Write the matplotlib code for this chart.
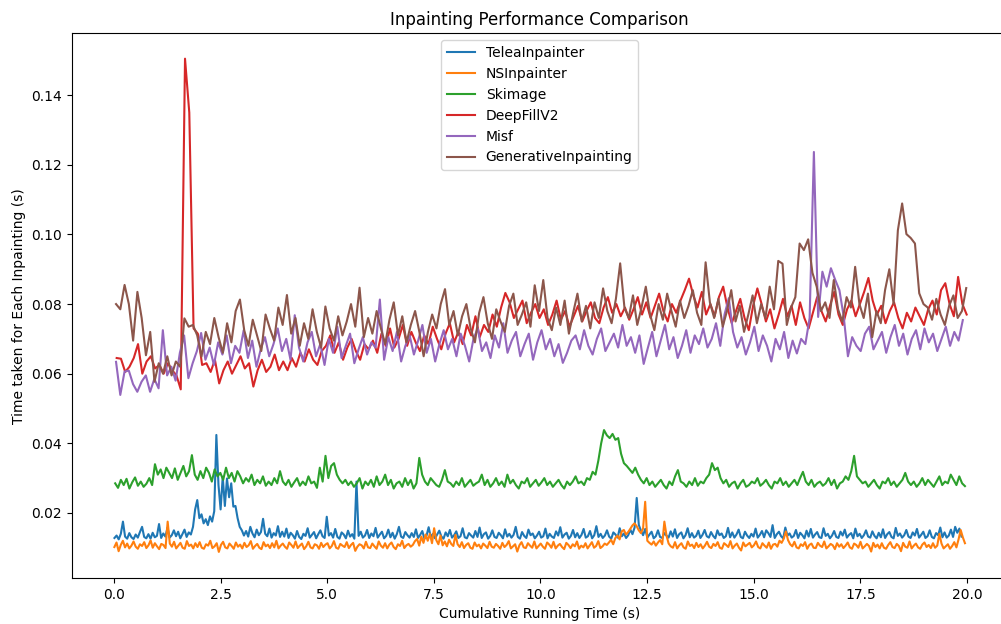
import numpy as np
import matplotlib.pyplot as plt

# per-inpainting times in milliseconds
# (each series plotted against its cumulative running time)
telea_ms = [
    12.8, 13.5, 12.4, 14.0, 17.5, 13.2, 12.6, 14.2, 13.0, 12.5, 13.8, 12.9, 14.5, 16.0, 13.1, 12.7, 13.9, 12.6, 14.3, 13.0,
    13.4, 16.8, 12.8, 14.1, 13.2, 15.8, 12.9, 13.6, 15.0, 13.3, 14.6, 12.7, 13.9, 15.2, 13.1, 14.4, 13.8, 16.0, 21.0, 23.7,
    18.5, 19.6, 17.0, 18.2, 16.5, 19.0, 17.5, 20.5, 42.4, 28.0, 21.0, 30.4, 22.0, 29.9, 24.5, 28.5, 21.8, 22.0, 18.5, 16.0,
    15.0, 13.5, 14.8, 13.2, 16.0, 14.1, 13.0, 15.2, 13.6, 14.5, 18.3, 14.0, 13.3, 15.5, 12.9, 14.2, 13.5, 16.2, 13.1, 14.6,
    13.2, 15.5, 12.8, 14.3, 13.6, 12.6, 14.8, 13.1, 12.5, 14.0, 13.4, 15.6, 12.9, 13.7, 14.5, 12.7, 13.9, 15.0, 13.3, 12.8,
    18.9, 13.5, 14.2, 12.9, 15.4, 13.1, 12.6, 14.4, 13.8, 12.7, 14.9, 13.2, 13.9, 12.6, 29.0, 13.4, 14.6, 12.9, 13.5, 15.1,
    12.8, 14.1, 13.3, 15.7, 12.9, 13.8, 14.6, 12.7, 13.4, 15.2, 13.0, 14.3, 12.6, 13.9, 16.0, 13.2, 12.8, 14.5, 13.6, 12.9,
    14.2, 13.1, 15.3, 12.8, 13.7, 14.8, 12.6, 13.5, 15.9, 13.0, 14.0, 12.7, 13.8, 14.9, 13.2, 12.6, 14.4, 13.3, 15.1, 12.9,
    13.6, 14.7, 12.8, 13.3, 15.6, 13.0, 12.7, 14.2, 13.5, 12.9, 14.8, 13.1, 15.8, 12.8, 13.9, 14.4, 12.6, 13.4, 15.0, 13.1,
    12.8, 14.3, 13.6, 12.7, 15.3, 13.2, 14.0, 12.9, 13.7, 16.0, 13.1, 12.6, 14.5, 13.4, 12.8, 15.2, 13.6, 14.1, 12.7, 13.5,
    14.6, 12.9, 13.3, 15.5, 12.7, 14.0, 13.2, 12.8, 14.7, 13.5, 15.9, 12.9, 13.8, 14.3, 12.6, 13.4, 15.1, 13.0, 14.2, 12.8,
    13.7, 15.4, 12.9, 13.3, 14.8, 12.7, 13.6, 16.2, 13.1, 14.0, 12.8, 13.5, 15.0, 13.2, 12.6, 14.4, 13.8, 12.9, 15.6, 13.3,
    14.1, 12.8, 13.6, 15.2, 13.9, 15.8, 24.3, 16.5, 14.9, 13.6, 15.4, 12.9, 13.8, 14.6, 12.7, 13.3, 15.0, 13.1, 12.8, 14.2,
    13.5, 12.9, 14.7, 13.2, 15.3, 12.8, 13.9, 14.4, 12.7, 13.6, 15.6, 13.0, 14.2, 12.9, 13.4, 14.9, 12.8, 13.7, 15.1, 13.3,
    12.9, 14.5, 13.4, 12.7, 15.0, 13.6, 14.1, 12.8, 13.3, 15.7, 13.0, 14.4, 12.9, 13.8, 15.2, 13.1, 12.7, 14.6, 13.5, 12.8,
    14.0, 13.2, 15.5, 12.9, 13.7, 14.8, 13.0, 15.0, 14.2, 13.1, 16.5, 12.8, 13.9, 14.6, 13.3, 12.7, 15.8, 13.5, 14.1, 12.9,
    13.4, 15.1, 12.8, 14.3, 13.6, 12.7, 14.9, 13.2, 15.4, 12.9, 13.8, 14.5, 13.0, 12.8, 15.6, 13.4, 14.0, 12.7, 13.5, 14.8,
    13.1, 12.8, 14.6, 13.5, 15.2, 12.9, 13.7, 14.2, 12.7, 15.5, 13.3, 14.0, 12.8, 13.6, 15.0, 13.2, 12.9, 14.7, 13.4, 12.7,
    14.3, 13.0, 15.3, 12.8, 13.9, 14.5, 13.1, 12.7, 15.7, 13.4, 14.1, 12.9, 13.6, 15.1, 13.2, 12.8, 14.4, 13.5, 15.4, 12.9,
    13.7, 14.6, 12.8, 13.3, 15.0, 13.1, 12.7, 14.2, 13.6, 15.8, 13.0, 14.4, 12.9, 13.5, 15.2, 13.1, 16.0, 14.3, 15.5, 13.2,
]

ns_ms = [
    10.2, 11.5, 9.0, 10.8, 12.0, 10.1, 11.2, 9.8, 10.6, 11.8, 10.3, 9.7, 11.0, 10.5, 11.6, 9.9, 10.7, 12.1, 10.0, 11.3,
    10.4, 9.6, 11.1, 10.8, 9.9, 17.5, 11.2, 10.3, 11.7, 9.8, 10.6, 11.4, 10.0, 9.7, 11.9, 10.5, 10.9, 9.8, 11.3, 10.2,
    11.6, 10.0, 9.7, 11.0, 10.6, 12.0, 9.9, 10.4, 11.3, 8.8, 10.8, 11.7, 10.1, 9.8, 11.2, 10.5, 9.7, 11.5, 10.3, 10.9,
    9.8, 11.4, 10.2, 10.7, 11.9, 9.7, 10.5, 11.1, 10.0, 9.6, 11.6, 10.4, 10.9, 9.9, 11.3, 10.1, 12.0, 9.8, 10.6, 11.2,
    10.3, 9.7, 11.5, 10.8, 10.0, 11.8, 9.9, 10.6, 11.2, 9.6, 10.4, 11.7, 10.1, 9.8, 11.0, 10.7, 9.7, 11.4, 10.2, 10.9,
    11.3, 9.8, 10.5, 11.9, 10.0, 9.7, 11.1, 10.6, 10.2, 11.6, 9.9, 10.8, 11.4, 9.1, 10.3, 11.0, 10.7, 9.8, 11.7, 10.1,
    9.9, 11.2, 10.4, 9.7, 11.8, 10.6, 10.0, 11.3, 9.8, 10.9, 11.5, 10.2, 9.6, 11.0, 10.5, 12.0, 9.9, 10.7, 11.1, 10.3,
    10.8, 11.9, 12.5, 10.6, 13.2, 11.4, 13.8, 12.0, 14.0, 11.3, 15.6, 12.2, 11.0, 13.5, 10.7, 11.8, 10.4, 12.3, 11.1, 10.5,
    13.7, 11.0, 10.2, 11.6, 9.9, 10.8, 11.3, 10.0, 9.7, 11.5, 10.4, 10.9, 9.8, 11.2, 10.6, 9.9, 11.7, 10.3, 10.0, 11.1,
    10.5, 9.7, 11.4, 10.2, 10.8, 11.9, 9.8, 10.4, 11.0, 8.9, 10.7, 11.6, 10.1, 9.9, 11.3, 10.6, 10.0, 11.8, 9.8, 10.5,
    11.2, 10.3, 9.7, 11.5, 10.9, 10.0, 11.7, 9.8, 10.6, 11.1, 10.2, 9.6, 11.4, 10.8, 9.9, 11.0, 10.4, 11.8, 9.7, 10.6,
    10.1, 11.3, 9.8, 10.7, 11.6, 10.0, 10.5, 11.9, 9.9, 10.4, 11.2, 10.8, 11.5, 12.3, 11.0, 12.8, 13.5, 12.4, 14.7, 15.1,
    13.8, 14.5, 15.4, 16.4, 17.0, 16.2, 15.0, 14.2, 15.5, 23.2, 12.0, 11.4, 10.9, 11.8, 10.6, 11.5, 12.2, 11.0, 17.5, 13.5,
    11.2, 10.4, 10.0, 11.6, 9.8, 10.7, 11.3, 10.1, 9.7, 11.8, 10.5, 10.9, 9.9, 11.4, 10.2, 11.0, 9.8, 10.6, 11.7, 10.3,
    9.9, 11.1, 10.5, 11.6, 10.0, 9.7, 11.3, 10.8, 10.2, 11.9, 9.8, 10.6, 11.2, 10.0, 9.2, 11.5, 10.4, 10.9, 11.4, 10.1,
    10.7, 11.8, 10.2, 9.8, 11.3, 10.6, 10.0, 11.5, 9.7, 10.9, 11.1, 10.3, 12.0, 11.4, 12.6, 14.7, 12.2, 11.0, 10.4, 11.7,
    10.1, 9.8, 11.0, 10.5, 11.6, 9.7, 10.8, 11.2, 10.0, 9.9, 11.4, 10.6, 10.2, 11.8, 9.8, 10.4, 11.1, 10.7, 9.6, 11.3,
    10.3, 11.0, 9.9, 10.6, 11.5, 10.1, 9.7, 11.2, 10.8, 10.0, 11.7, 9.8, 10.4, 11.1, 10.5, 8.9, 11.4, 10.2, 10.9, 9.8,
    11.3, 10.0, 9.7, 10.8, 11.6, 10.2, 9.9, 11.1, 10.5, 9.0, 11.4, 10.3, 10.0, 11.8, 9.8, 10.6, 11.2, 10.1, 9.7, 10.9,
    11.5, 10.2, 10.8, 9.9, 11.3, 10.0, 10.6, 14.0, 11.2, 9.8, 10.4, 11.0, 9.7, 10.5, 11.6, 10.1, 12.4, 15.1, 13.0, 11.3,
]

skimage_ms = [
    28.5, 27.2, 29.5, 28.0, 29.8, 27.0, 28.8, 30.2, 27.8, 29.0, 27.5, 28.4, 30.0, 28.0, 34.0, 31.0, 32.5, 30.0, 33.0, 31.5,
    30.0, 32.8, 29.5, 31.5, 33.5, 30.5, 32.0, 36.6, 31.0, 29.5, 32.0, 30.0, 33.0, 31.5, 29.0, 32.5, 30.5, 31.5, 29.5, 33.0,
    30.0, 31.5, 29.0, 32.0, 30.5, 28.5, 30.0, 29.0, 31.0, 28.0, 29.5, 28.5, 30.5, 27.8, 29.0, 28.0, 30.0, 28.5, 32.0, 29.0,
    28.0, 29.5, 27.5, 28.8, 30.0, 27.8, 29.0, 28.0, 30.5, 28.5, 29.0, 27.2, 33.0, 29.0, 36.4, 30.0, 33.5, 34.3, 31.0, 29.5,
    28.5, 29.5, 28.0, 29.0, 27.5, 28.5, 30.0, 27.0, 29.0, 28.0, 29.5, 27.5, 30.5, 28.0, 29.0, 31.0, 28.0, 29.5, 27.0, 28.5,
    29.0, 27.5, 30.0, 28.0, 29.5, 27.0, 28.5, 35.8, 31.0, 29.0, 28.0, 30.0, 29.0, 28.0, 27.5, 29.5, 32.3, 29.0, 28.5, 27.5,
    29.0, 28.0, 30.0, 27.5, 28.5, 29.5, 27.8, 28.5, 29.0, 31.0, 28.0, 29.5, 27.5, 28.5, 30.0, 28.0, 29.0, 27.5, 31.0, 28.5,
    29.5, 28.0, 27.0, 29.0, 28.5, 30.0, 27.5, 28.5, 29.5, 27.8, 28.8, 30.0, 28.0, 29.0, 27.5, 28.5, 29.5, 28.0, 27.0, 29.0,
    28.0, 29.0, 30.5, 28.5, 29.0, 28.0, 30.0, 29.5, 31.8, 31.0, 35.0, 40.0, 43.8, 42.3, 41.5, 42.7, 41.0, 41.5, 37.0, 34.3,
    33.5, 32.5, 31.5, 33.0, 31.0, 29.5, 28.5, 30.0, 28.0, 29.0, 27.5, 28.5, 29.5, 28.0, 27.0, 29.0, 28.0, 30.5, 32.3, 29.0,
    28.5, 27.5, 29.0, 28.0, 30.0, 27.8, 29.0, 28.5, 30.0, 31.0, 34.3, 32.3, 33.0, 30.0, 28.5, 29.5, 27.5, 28.5, 29.0, 27.0,
    28.5, 29.5, 27.5, 28.0, 29.0, 28.5, 30.0, 27.8, 28.5, 29.5, 28.0, 27.0, 29.0, 28.5, 30.0, 28.0, 29.0, 27.5, 28.5, 29.5,
    28.0, 30.0, 31.8, 29.0, 28.0, 29.5, 27.5, 28.5, 29.0, 27.8, 28.5, 30.0, 28.0, 29.5, 27.0, 28.5, 29.0, 30.5, 29.5, 32.0,
    36.4, 30.5, 29.5, 28.5, 29.0, 27.5, 28.5, 29.5, 28.0, 27.0, 29.0, 28.5, 30.0, 28.0, 29.0, 27.5, 28.5, 29.5, 31.5, 29.0,
    28.0, 29.0, 27.5, 28.5, 30.0, 28.0, 29.5, 28.5, 27.5, 29.0, 30.5, 28.0, 29.0, 28.5, 31.0, 29.5, 28.0, 30.5, 28.5, 27.7,
]

deepfill_ms = [
    64.5, 64.3, 60.5, 62.0, 64.5, 68.5, 60.0, 63.5, 65.0, 61.5, 62.5, 60.0, 63.0, 61.0, 59.5, 55.5, 150.5, 135.0, 73.0, 71.5,
    62.5, 63.0, 60.5, 64.0, 57.2, 61.0, 63.5, 60.0, 62.5, 65.0, 61.5, 63.0, 56.3, 61.0, 64.0, 60.5, 62.0, 65.5, 61.0, 63.5,
    61.0, 64.5, 62.0, 66.0, 63.5, 67.0, 64.0, 62.5, 66.5, 68.0, 71.0, 66.0, 69.0, 64.0, 67.5, 70.0, 66.5, 64.0, 68.5, 67.0,
    69.5, 66.0, 71.5, 68.0, 73.0, 67.5, 70.0, 74.0, 68.0, 72.0, 69.0, 66.5, 71.0, 68.5, 73.5, 70.0, 67.0, 71.5, 74.5, 69.0,
    72.0, 68.5, 74.0, 71.0, 76.5, 70.5, 74.0, 72.0, 77.0, 73.5, 79.0, 83.2, 80.5, 76.0, 78.5, 81.0, 74.5, 77.5, 80.0, 76.0,
    78.5, 74.0, 77.0, 81.0, 75.5, 78.0, 73.5, 76.5, 79.5, 75.0, 78.0, 80.5, 76.0, 74.5, 79.0, 82.0, 77.5, 80.0, 76.5, 79.0,
    75.5, 78.5, 82.0, 77.0, 80.5, 76.0, 79.5, 83.0, 78.0, 75.0, 80.0, 77.5, 81.0, 84.0, 87.3, 82.5, 79.0, 83.5, 77.0, 80.0,
    76.5, 82.0, 85.0, 79.0, 74.5, 78.0, 81.5, 76.0, 72.5, 79.5, 84.5, 80.0, 75.0, 78.5, 73.0, 77.0, 81.5, 76.5, 79.5, 74.0,
    80.5, 76.0, 73.0, 77.5, 82.0, 78.0, 75.0, 79.5, 83.5, 77.0, 74.0, 78.5, 81.0, 76.5, 80.0, 83.5, 87.5, 81.0, 77.0, 79.5,
    74.5, 78.0, 80.5, 76.0, 73.0, 77.5, 75.0, 79.0, 76.5, 74.0, 78.5, 81.0, 77.0, 84.0, 86.0, 80.0, 76.5, 87.8, 80.0, 77.0,
]

misf_ms = [
    63.4, 53.9, 60.6, 60.9, 57.0, 54.8, 57.7, 59.5, 54.8, 58.5, 55.8, 72.5, 59.5, 62.0, 58.0, 66.0, 71.0, 58.7, 63.0, 66.5,
    71.7, 64.0, 67.5, 62.5, 69.0, 65.5, 71.0, 63.0, 68.0, 66.0, 72.5, 64.5, 69.5, 62.0, 67.0, 70.5, 65.0, 68.5, 73.0, 66.5,
    70.0, 64.0, 76.8, 67.5, 63.5, 69.0, 72.0, 65.0, 68.5, 62.5, 70.0, 66.0, 73.5, 64.5, 68.0, 71.5, 63.0, 67.0, 70.5, 65.5,
    69.0, 67.5, 81.3, 64.0, 70.5, 66.5, 72.0, 63.5, 68.0, 71.0, 65.5, 69.5, 74.0, 66.0, 70.0, 63.5, 68.5, 72.5, 67.0, 70.0,
    65.0, 71.5, 68.0, 63.5, 70.0, 73.0, 66.5, 69.0, 64.5, 71.0, 67.5, 74.5, 66.0, 69.5, 72.0, 65.0, 68.5, 71.5, 64.0, 69.0,
    72.5, 67.0, 70.0, 65.0, 68.5, 63.1, 66.0, 69.5, 71.0, 67.0, 72.5, 68.0, 65.5, 70.0, 73.0, 66.5, 69.0, 71.5, 67.5, 74.0,
    68.0, 70.5, 66.0, 71.0, 62.8, 67.5, 72.0, 65.0, 69.5, 74.0, 67.0, 70.5, 64.5, 68.0, 72.5, 66.0, 71.0, 68.5, 73.0, 67.5,
    70.0, 74.5, 68.0, 77.0, 81.7, 72.0, 67.5, 70.5, 65.5, 69.0, 73.5, 66.5, 71.0, 68.0, 63.5, 70.0, 67.0, 72.0, 64.5, 69.5,
    65.8, 70.0, 68.5, 76.0, 123.7, 76.3, 89.3, 85.0, 90.3, 87.0, 84.0, 76.5, 65.0, 70.5, 68.0, 66.5, 71.5, 73.5, 67.0, 69.5,
    72.0, 66.0, 70.5, 74.0, 68.0, 71.5, 65.5, 70.0, 72.5, 67.0, 73.0, 69.0, 71.5, 66.5, 70.0, 73.5, 68.0, 72.0, 69.5, 75.4,
]

generative_ms = [
    80.0, 78.5, 85.5, 80.0, 69.5, 83.5, 76.0, 65.3, 72.0, 57.7, 63.0, 60.0, 65.0, 59.5, 63.5, 62.0, 75.9, 73.5, 74.0, 71.0,
    64.9, 72.0, 68.5, 76.0, 70.5, 66.0, 74.5, 69.0, 78.0, 81.3, 72.5, 68.0, 75.5, 71.0, 66.5, 77.0, 73.0, 69.5, 79.0, 74.0,
    82.6, 71.5, 76.0, 68.0, 74.5, 70.0, 78.5, 72.0, 67.5, 79.3, 73.0, 69.5, 76.5, 71.0, 75.0, 80.0, 73.5, 84.7, 70.5, 76.0,
    71.5, 78.0, 73.0, 68.5, 75.5, 80.5, 71.0, 76.5, 69.0, 74.0, 78.0, 72.0, 65.0, 72.0, 77.0, 73.0, 80.0, 84.3, 74.0, 78.0,
    71.0, 76.5, 80.0, 73.0, 69.0, 77.5, 82.0, 74.5, 70.0, 78.5, 75.0, 72.0, 79.5, 83.0, 74.0, 77.0, 80.5, 73.5, 85.4, 78.0,
    86.9, 76.0, 72.5, 79.0, 74.0, 81.0, 71.5, 77.5, 83.0, 75.0, 79.5, 73.0, 80.5, 76.0, 84.5, 78.0, 74.5, 81.5, 91.7, 79.0,
    76.0, 82.5, 74.0, 79.0, 85.0, 77.0, 72.5, 80.0, 75.5, 83.0, 78.0, 73.5, 81.0, 76.0, 79.5, 84.0, 77.5, 74.0, 92.0, 80.5,
    76.0, 81.5, 73.5, 78.0, 84.0, 75.0, 79.5, 72.0, 77.0, 82.5, 74.5, 80.0, 76.0, 85.0, 78.5, 92.4, 91.6, 74.0, 79.0, 82.0,
    97.4, 95.5, 98.6, 89.0, 85.0, 78.0, 80.5, 76.0, 86.9, 78.5, 75.0, 82.0, 79.0, 90.7, 80.0, 76.0, 83.0, 70.5, 78.0, 74.5,
    84.0, 90.0, 80.0, 101.2, 108.9, 100.1, 99.0, 97.4, 83.1, 80.0, 79.0, 75.5, 81.5, 77.0, 74.0, 79.5, 82.5, 76.0, 78.0, 84.6,
]

# cumulative time (s) of the first and last sample of each series
telea_span = (0.013, 19.87)
ns_span = (0.011, 19.95)
skimage_span = (0.03, 19.95)
deepfill_span = (0.065, 19.99)
misf_span = (0.05, 19.9)
generative_span = (0.05, 19.98)

series = [
    ("TeleaInpainter", telea_ms, telea_span),
    ("NSInpainter", ns_ms, ns_span),
    ("Skimage", skimage_ms, skimage_span),
    ("DeepFillV2", deepfill_ms, deepfill_span),
    ("Misf", misf_ms, misf_span),
    ("GenerativeInpainting", generative_ms, generative_span),
]


def main():
    fig = plt.figure(figsize=(10.01, 6.24), dpi=100)
    ax = fig.add_axes([0.0716, 0.0737, 0.935, 0.873])

    for name, values_ms, span in series:
        y = np.array(values_ms) / 1000.0
        x = np.linspace(span[0], span[1], len(y))
        ax.plot(x, y, label=name)

    ax.set_xlim(-0.99, 20.95)
    ax.set_ylim(0.0013, 0.1578)
    ax.set_title("Inpainting Performance Comparison")
    ax.set_xlabel("Cumulative Running Time (s)")
    ax.set_ylabel("Time taken for Each Inpainting (s)")
    ax.legend(loc="upper center")

    fig.savefig("out.png", dpi=100)


if __name__ == "__main__":
    main()
